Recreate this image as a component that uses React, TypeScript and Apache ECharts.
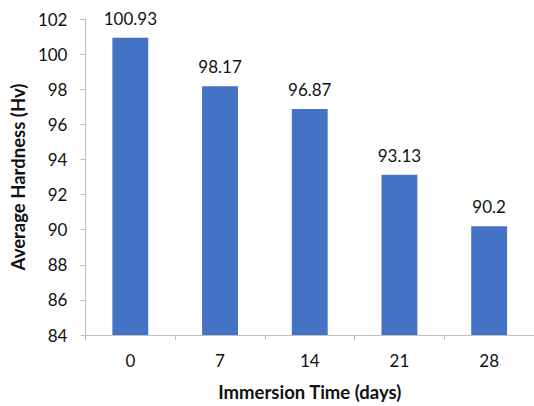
import React, { useEffect, useRef } from "react";
import * as echarts from "echarts";

// Immersion time (days) and measured average hardness (Hv)
const immersionDays = ["0", "7", "14", "21", "28"];
const avgHardness = [100.93, 98.17, 96.87, 93.13, 90.2];

const FONT = "Lato, 'Open Sans', sans-serif";
const TEXT_COLOR = "#111111";
const AXIS_COLOR = "#bfbfbf";

export default function App() {
  const ref = useRef<HTMLDivElement>(null);

  useEffect(() => {
    if (!ref.current) return;
    const chart = echarts.init(ref.current, undefined, { renderer: "svg" });
    chart.setOption({
      animation: false,
      textStyle: { fontFamily: FONT },
      grid: { left: 84, top: 19, width: 452, bottom: 70, containLabel: false },
      xAxis: {
        type: "category",
        data: immersionDays,
        name: "Immersion Time (days)",
        nameLocation: "middle",
        nameGap: 47,
        nameTextStyle: { fontFamily: FONT, fontSize: 18.5, fontWeight: "bold", color: TEXT_COLOR },
        axisLine: { lineStyle: { color: AXIS_COLOR, width: 1 } },
        axisTick: { show: true, length: 5, alignWithLabel: false, lineStyle: { color: AXIS_COLOR } },
        axisLabel: { fontFamily: FONT, fontSize: 17, color: TEXT_COLOR, margin: 17 },
      },
      yAxis: {
        type: "value",
        min: 84,
        max: 102,
        interval: 2,
        name: "Average Hardness (Hv)",
        nameLocation: "middle",
        nameRotate: 90,
        nameGap: 57,
        nameTextStyle: { fontFamily: FONT, fontSize: 18.5, fontWeight: "bold", color: TEXT_COLOR },
        axisLine: { show: true, lineStyle: { color: AXIS_COLOR, width: 1 } },
        axisTick: { show: true, length: 5, lineStyle: { color: AXIS_COLOR } },
        splitLine: { show: false },
        axisLabel: { fontFamily: FONT, fontSize: 17, color: TEXT_COLOR, margin: 18 },
      },
      series: [
        {
          type: "bar",
          data: avgHardness,
          barWidth: "40%",
          itemStyle: { color: "#4472c4" },
          label: {
            show: true,
            position: "top",
            distance: 11,
            fontFamily: FONT,
            fontSize: 17,
            color: TEXT_COLOR,
          },
        },
      ],
    });
    return () => chart.dispose();
  }, []);

  return (
    <div
      ref={ref}
      style={{ position: "fixed", left: 0, top: 0, width: 534, height: 406, background: "#fff" }}
    />
  );
}
